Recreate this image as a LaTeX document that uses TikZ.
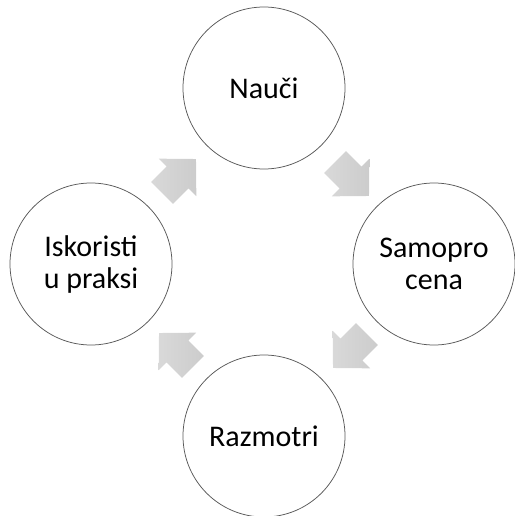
\documentclass[tikz,border=0pt]{standalone}
\usepackage{fontspec}
\setmainfont{Carlito}
\begin{document}
\begin{tikzpicture}[x=1pt, y=-1pt,
  stage/.style={circle, draw=black!65, line width=0.75pt, fill=white, minimum size=162pt,
    inner sep=0pt, align=center, font=\fontsize{30}{32}\selectfont}]
  \useasboundingbox (0,0) rectangle (514,516);
  \node[stage] (nauci) at (264,88) {Nauči};
  \node[stage] (samoprocena) at (434,264) {Samopro\\cena};
  \node[stage] (razmotri) at (264,436) {Razmotri};
  \node[stage] (iskoristi) at (91,264) {Iskoristi\\u praksi};
  \foreach \px/\py/\ang in {352/179/-45, 350/351/-135, 176/350/135, 179/176/45}
    \shade[shift={(\px,\py)}, rotate=\ang, left color=gray!30, right color=gray!40]
      (-24,-15.5) -- (-2,-15.5) -- (-2,-26.5) -- (24,0) -- (-2,26.5) -- (-2,15.5) -- (-24,15.5) -- cycle;
\end{tikzpicture}
\end{document}
